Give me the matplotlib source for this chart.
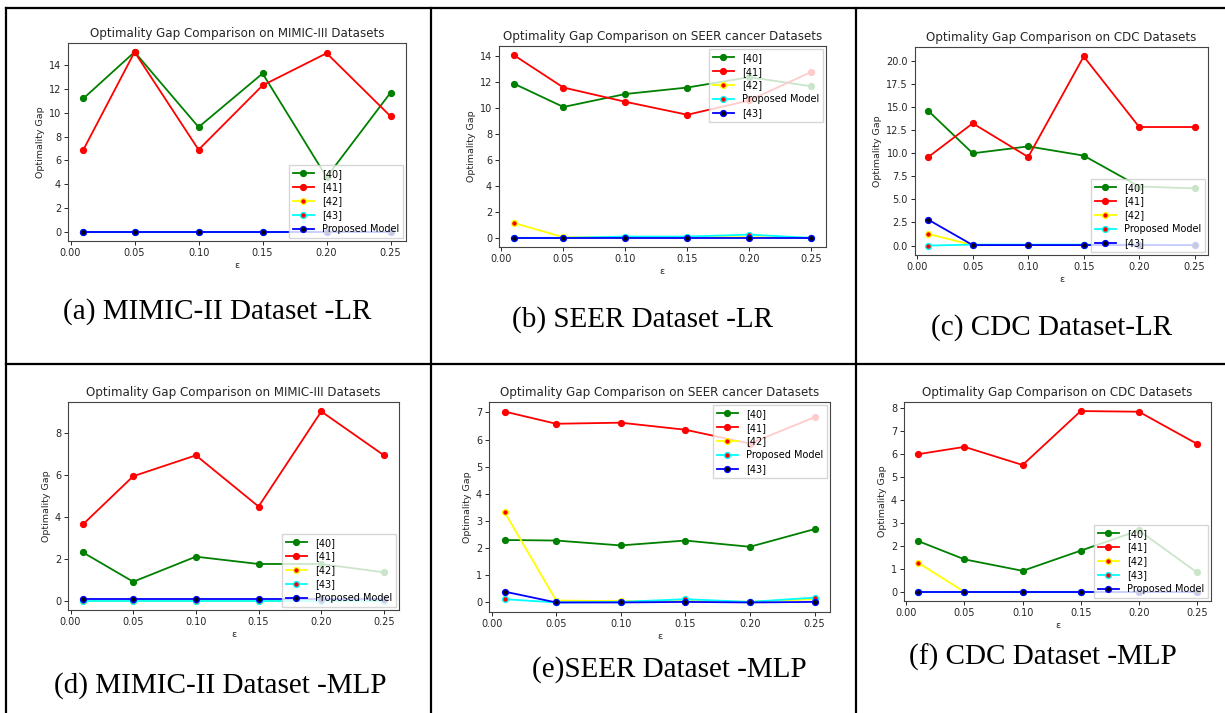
import matplotlib
matplotlib.use("Agg")
import matplotlib.pyplot as plt
from matplotlib.lines import Line2D
from matplotlib.ticker import MultipleLocator

# epsilon values shared by every panel
eps = [0.01, 0.05, 0.10, 0.15, 0.20, 0.25]

# (a) MIMIC - LR
a_40 = [11.2, 15.1, 8.8, 13.3, 4.6, 11.7]
a_41 = [6.9, 15.1, 6.9, 12.3, 15.0, 9.7]
a_42 = [0.0, 0.0, 0.0, 0.0, 0.0, 0.0]
a_43 = [0.0, 0.0, 0.0, 0.0, 0.0, 0.0]
a_prop = [0.0, 0.0, 0.0, 0.0, 0.0, 0.0]

# (b) SEER - LR
b_40 = [11.9, 10.1, 11.1, 11.6, 12.4, 11.7]
b_41 = [14.1, 11.6, 10.5, 9.5, 10.6, 12.8]
b_42 = [1.15, 0.05, 0.05, 0.05, 0.05, 0.0]
b_prop = [0.0, 0.0, 0.1, 0.1, 0.25, 0.0]
b_43 = [0.0, 0.0, 0.0, 0.0, 0.0, 0.0]

# (c) CDC - LR
c_40 = [14.6, 10.0, 10.75, 9.75, 6.4, 6.2]
c_41 = [9.6, 13.25, 9.6, 20.5, 12.85, 12.85]
c_42 = [1.25, 0.05, 0.05, 0.05, 0.05, 0.05]
c_prop = [0.0, 0.1, 0.1, 0.1, 0.1, 0.05]
c_43 = [2.8, 0.05, 0.05, 0.05, 0.05, 0.05]

# (d) MIMIC - MLP
d_40 = [2.3, 0.9, 2.1, 1.75, 1.75, 1.35]
d_41 = [3.65, 5.95, 6.95, 4.5, 9.05, 6.95]
d_42 = [0.0, 0.0, 0.0, 0.0, 0.0, 0.0]
d_43 = [0.0, 0.0, 0.0, 0.0, 0.0, 0.0]
d_prop = [0.08, 0.08, 0.08, 0.08, 0.08, 0.08]

# (e) SEER - MLP
e_40 = [2.3, 2.28, 2.1, 2.28, 2.05, 2.7]
e_41 = [7.03, 6.58, 6.62, 6.36, 5.85, 6.82]
e_42 = [3.33, 0.07, 0.05, 0.05, 0.03, 0.12]
e_prop = [0.12, 0.0, 0.02, 0.12, 0.02, 0.18]
e_43 = [0.4, 0.0, 0.0, 0.02, 0.0, 0.02]

# (f) CDC - MLP
f_40 = [2.22, 1.42, 0.92, 1.8, 2.68, 0.85]
f_41 = [6.0, 6.32, 5.53, 7.88, 7.85, 6.45]
f_42 = [1.28, 0.0, 0.0, 0.0, 0.0, 0.0]
f_43 = [0.0, 0.0, 0.0, 0.0, 0.0, 0.0]
f_prop = [0.0, 0.0, 0.0, 0.0, 0.0, 0.0]

titles = ["Optimality Gap Comparison on MIMIC-III Datasets",
          "Optimality Gap Comparison on SEER cancer Datasets",
          "Optimality Gap Comparison on CDC Datasets",
          "Optimality Gap Comparison on MIMIC-III Datasets",
          "Optimality Gap Comparison on SEER cancer Datasets",
          "Optimality Gap Comparison on CDC Datasets"]
captions = ["(a) MIMIC-II Dataset -LR", "(b) SEER Dataset -LR", "(c) CDC Dataset-LR",
            "(d) MIMIC-II Dataset -MLP", "(e)SEER Dataset -MLP", "(f) CDC Dataset -MLP"]

# series per panel in plotting order: green, red, yellow, cyan, blue
panels = [
    ([a_40, a_41, a_42, a_43, a_prop], ["[40]", "[41]", "[42]", "[43]", "Proposed Model"]),
    ([b_40, b_41, b_42, b_prop, b_43], ["[40]", "[41]", "[42]", "Proposed Model", "[43]"]),
    ([c_40, c_41, c_42, c_prop, c_43], ["[40]", "[41]", "[42]", "Proposed Model", "[43]"]),
    ([d_40, d_41, d_42, d_43, d_prop], ["[40]", "[41]", "[42]", "[43]", "Proposed Model"]),
    ([e_40, e_41, e_42, e_prop, e_43], ["[40]", "[41]", "[42]", "Proposed Model", "[43]"]),
    ([f_40, f_41, f_42, f_43, f_prop], ["[40]", "[41]", "[42]", "[43]", "Proposed Model"]),
]
legend_locs = ["lower right", "upper right", "lower right", "lower right", "upper right", "lower right"]
ytick_step = [2, 2, 2.5, 2, 1, 1]

W, H = 1225, 713
# axes boxes in pixels: left, top, right, bottom
boxes = [(68, 43, 406, 241), (499, 46, 826, 247), (915, 47, 1208, 255),
         (68, 402, 399, 610), (489, 402, 830, 612), (904, 402, 1211, 601)]
cap_pos = [(217, 312), (643, 320), (1052, 328), (220, 686), (669, 670), (1043, 657)]

line_col = ["green", "red", "yellow", "cyan", "blue"]
face_col = ["green", "red", "red", "red", "black"]

fig = plt.figure(figsize=(W / 100, H / 100), dpi=100)
txt = "#262626"

for i, (series, labels) in enumerate(panels):
    l, t, r, b = boxes[i]
    ax = fig.add_axes([l / W, (H - b) / H, (r - l) / W, (b - t) / H])
    for ys, lab, lc, fc in zip(series, labels, line_col, face_col):
        ax.plot(eps, ys, "-o", color=lc, markerfacecolor=fc, markeredgecolor=lc,
                lw=1.3, ms=4.2, label=lab)
    ax.set_title(titles[i], fontsize=8.6, color=txt, pad=4)
    ax.set_xlabel("ε", fontsize=6.8, color=txt, labelpad=2)
    ax.set_ylabel("Optimality Gap", fontsize=6.8, color=txt, labelpad=3)
    ax.set_xticks([0.0, 0.05, 0.10, 0.15, 0.20, 0.25])
    ax.set_xticklabels(["0.00", "0.05", "0.10", "0.15", "0.20", "0.25"])
    ax.yaxis.set_major_locator(MultipleLocator(ytick_step[i]))
    if ytick_step[i] == 2.5:
        ax.yaxis.set_major_formatter("{x:.1f}")
    ax.tick_params(labelsize=7, colors=txt, length=3, width=0.7, pad=2)
    for s in ax.spines.values():
        s.set_color("#444444")
        s.set_linewidth(0.8)
    ax.legend(loc=legend_locs[i], fontsize=7, framealpha=0.8, borderpad=0.4,
              labelspacing=0.4, handlelength=2.2, handletextpad=0.8,
              borderaxespad=0.3, fancybox=False, edgecolor="#cccccc")
    cx, cy = cap_pos[i]
    fig.text(cx / W, (H - cy) / H, captions[i], ha="center", va="center",
             fontsize=21, family="Liberation Serif", color="black")

# table grid around the panels
grid = [((6, 6), (8, H)), ((431, 431), (8, H)), ((856, 856), (8, H)),
        ((6, W), (8, 8)), ((6, W), (364, 364))]
for xs, ys in grid:
    fig.add_artist(Line2D([x / W for x in xs], [(H - y) / H for y in ys],
                          color="black", lw=1.6, transform=fig.transFigure))

fig.savefig("out.png", dpi=100)
